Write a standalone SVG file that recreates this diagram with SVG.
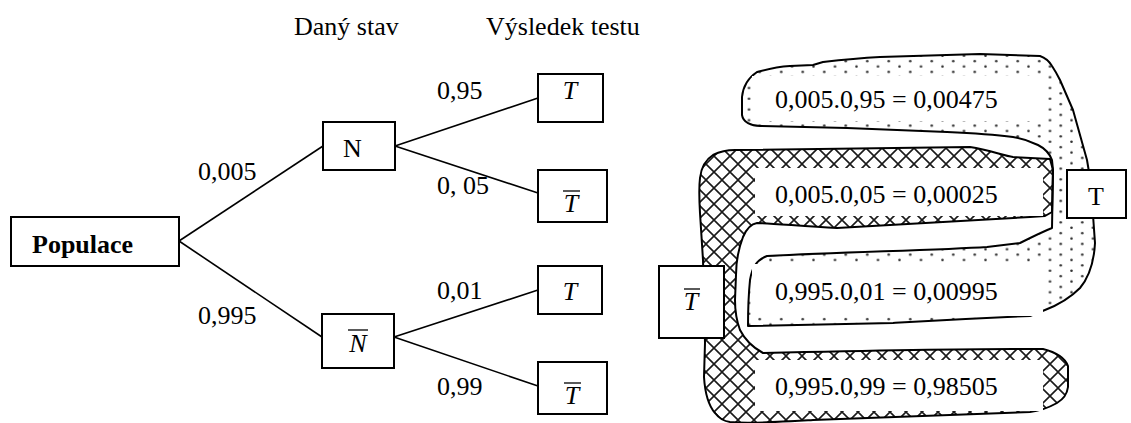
<svg xmlns="http://www.w3.org/2000/svg" width="1131" height="423" viewBox="0 0 1131 423">
  <style>
    .t { font-family: "Liberation Serif", "Times New Roman", serif; font-size: 26px; fill: #000; }
    .b { font-weight: bold; }
    .i { font-style: italic; }
    .box { fill: #fff; stroke: #000; stroke-width: 2; }
    .edge { stroke: #000; stroke-width: 1.6; fill: none; }
    .bar { stroke: #000; stroke-width: 1.3; }
    .outline { stroke: #000; stroke-width: 2; stroke-linejoin: round; }
    .blank { fill: #fff; stroke: none; }
  </style>
  <defs>
    <!-- sparse staggered dots for the positive-test group -->
    <pattern id="dots" patternUnits="userSpaceOnUse" x="743.625" y="85.3125" width="21.5" height="10.75">
      <circle cx="5.375" cy="2.6875" r="1.3" fill="#333"/>
      <circle cx="16.125" cy="8.0625" r="1.3" fill="#333"/>
    </pattern>
    <!-- diagonal cross-hatching for the negative-test group -->
    <pattern id="hatch" patternUnits="userSpaceOnUse" x="2" y="4" width="16" height="16">
      <path d="M0,0 L16,16 M16,0 L0,16 M-1,15 L1,17 M15,-1 L17,1" stroke="#1a1a1a" stroke-width="1.6" fill="none"/>
    </pattern>
  </defs>

  <!-- column headings -->
  <text class="t" x="294" y="35">Daný stav</text>
  <text class="t" x="486" y="35">Výsledek testu</text>

  <!-- tree connectors -->
  <g id="connectors">
    <line class="edge" x1="179" y1="241" x2="323" y2="146"/>
    <line class="edge" x1="179" y1="241" x2="322" y2="337"/>
    <line class="edge" x1="395" y1="146" x2="538" y2="98"/>
    <line class="edge" x1="395" y1="146" x2="538" y2="193"/>
    <line class="edge" x1="394" y1="337" x2="538" y2="290"/>
    <line class="edge" x1="394" y1="337" x2="538" y2="386"/>
  </g>

  <!-- branch probabilities -->
  <g id="probabilities">
    <text class="t" x="198" y="180">0,005</text>
    <text class="t" x="198" y="324">0,995</text>
    <text class="t" x="437" y="99">0,95</text>
    <text class="t" x="437" y="194">0, 05</text>
    <text class="t" x="437" y="299">0,01</text>
    <text class="t" x="437" y="395">0,99</text>
  </g>

  <g id="populace">
    <rect class="box" x="11" y="217" width="168" height="49"/>
    <text class="t b" x="32" y="253">Populace</text>
  </g>

  <g id="n">
    <rect class="box" x="323" y="122" width="72" height="48"/>
    <text class="t" x="343" y="157">N</text>
  </g>

  <g id="n-bar">
    <rect class="box" x="322" y="314" width="72" height="54"/>
    <text class="t i" x="358" y="352" text-anchor="middle">N</text>
    <line class="bar" x1="348" y1="330" x2="368" y2="330"/>
  </g>

  <g id="t1">
    <rect class="box" x="538" y="74" width="65" height="48"/>
    <text class="t i" x="570" y="99" text-anchor="middle">T</text>
  </g>

  <g id="t1-bar">
    <rect class="box" x="538" y="170" width="69" height="52"/>
    <text class="t i" x="571" y="212" text-anchor="middle">T</text>
    <line class="bar" x1="563" y1="191" x2="580" y2="191"/>
  </g>

  <g id="t2">
    <rect class="box" x="538" y="266" width="64" height="48"/>
    <text class="t i" x="570" y="300" text-anchor="middle">T</text>
  </g>

  <g id="t2-bar">
    <rect class="box" x="538" y="362" width="69" height="52"/>
    <text class="t i" x="572" y="404" text-anchor="middle">T</text>
    <line class="bar" x1="564" y1="383" x2="581" y2="383"/>
  </g>

  <!-- group of positive results (dotted) -->
  <g id="group-positive">
    <path class="outline" fill="url(#dots)" d="M757,72 C768,69 775,67 790,66 L813,65 L823,62 C840,60 860,58 880,57 L980,54 L1040,56 C1046,58 1049,61 1052,66 C1056,72 1058,76 1060,80 L1073,110 L1087,160 L1089,172 L1093,215 L1095,243 C1094,262 1090,276 1080,288 C1070,298 1058,305 1045,310 L1030,316 C960,319 910,322 893,323 L748,326 C748,305 749,290 750,280 C752,268 756,260 767,256 C850,252 940,250 987,247 L1020,243 C1030,238 1042,232 1052,228 L1053,170 L1052,160 C1049,152 1044,148 1038,145 C1030,141 1020,138 1013,137 C990,134 970,133 947,132 L847,128 L760,126 C751,126 743,122 742,115 L742,97 C743,87 748,78 757,72 Z"/>
  </g>

  <!-- group of negative results (cross-hatched) -->
  <g id="group-negative">
    <path class="outline" fill="url(#hatch)" d="M713,155 C721,151 727,150 735,150 L970,147 C990,150 1004,156 1013,157 L1050,159 L1053,170 L1052,212 L1045,216 L1030,217 L837,228 C800,226 770,223 757,223 C750,224 746,230 743,237 C738,250 736,262 736,275 L735,300 C735,314 737,322 740,330 C745,340 752,347 763,353 C850,351 960,349 1013,349 L1043,349 C1055,352 1065,358 1068,366 L1068,387 C1067,395 1062,400 1057,403 C1048,408 1040,411 1030,412 L813,420 C780,422 750,424 730,422 C722,421 718,417 715,413 C708,405 705,393 704,377 L705,343 L703,260 L700,213 C699,196 699,186 700,178 C701,169 705,160 713,155 Z"/>
  </g>

  <!-- result products, each on a clear panel -->
  <g id="products">
    <rect class="blank" x="752" y="76" width="294" height="45"/>
    <rect class="blank" x="755" y="168" width="288" height="48"/>
    <rect class="blank" x="752" y="264" width="291" height="52"/>
    <rect class="blank" x="755" y="360" width="288" height="51"/>
    <text class="t" x="775" y="108">0,005.0,95 = 0,00475</text>
    <text class="t" x="775" y="203">0,005.0,05 = 0,00025</text>
    <text class="t" x="775" y="300">0,995.0,01 = 0,00995</text>
    <text class="t" x="775" y="395">0,995.0,99 = 0,98505</text>
  </g>

  <g id="label-t">
    <rect class="box" x="1067" y="170" width="59" height="48"/>
    <text class="t" x="1096" y="205" text-anchor="middle">T</text>
  </g>

  <g id="label-t-bar">
    <rect class="box" x="659" y="266" width="65" height="72"/>
    <text class="t i" x="691" y="310" text-anchor="middle">T</text>
    <line class="bar" x1="684" y1="289" x2="700" y2="289"/>
  </g>
</svg>
